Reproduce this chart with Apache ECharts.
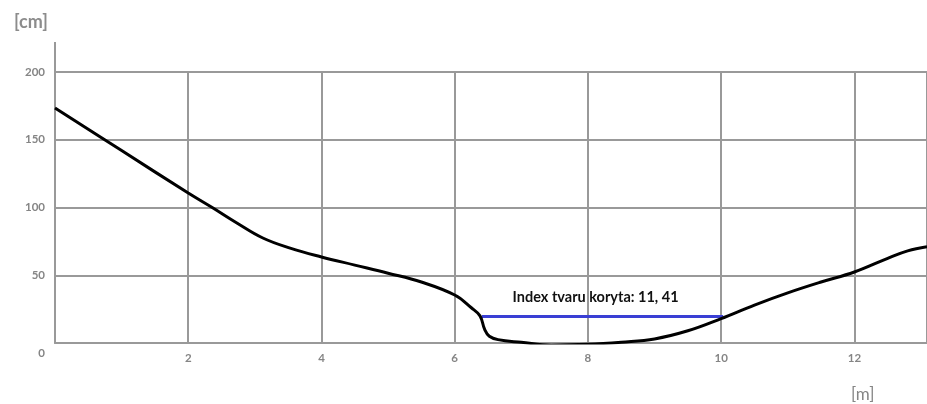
<!DOCTYPE html>
<html>
<head>
<meta charset="utf-8">
<script src="https://cdn.jsdelivr.net/npm/echarts@6/dist/echarts.min.js"></script>
<style>
html,body{margin:0;padding:0;background:#fff;}
#chart{width:927px;height:404px;}
</style>
</head>
<body>
<div id="chart"></div>
<script>
// distance along the profile [m]
var distM = [0, 1, 2, 2.36, 2.73, 3.12, 3.53, 4, 4.5, 5, 5.5, 6, 6.25, 6.38, 6.45, 6.52, 6.65, 7, 7.45, 8, 8.5, 9, 9.5, 10, 10.5, 11, 11.5, 12, 12.5, 12.8, 13.09];
// depth / height [cm]
var heightCm = [173.4, 142, 110.7, 100, 88.6, 77.5, 70, 63.5, 57.5, 51.5, 45, 35.4, 26, 20, 10, 5, 2.5, 0.5, -1.6, -1, 0.6, 3, 9, 18, 28, 37, 45, 52.4, 62.5, 68, 71];
// water level line (start/end distance, level)
var levelX = [6.41, 10.03];
var levelY = 19.4;
var annotation = 'Index tvaru koryta: 11, 41';
var yTicks = [0, 50, 100, 150, 200];
var xTicks = [2, 4, 6, 8, 10, 12];

var profile = distM.map(function (x, i) { return [x, heightCm[i]]; });

var gridColor = '#999999';
var labelColor = '#858585';
var font = 'Lato';

var chart = echarts.init(document.getElementById('chart'), null, {renderer: 'canvas'});
chart.setOption({
  animation: false,
  backgroundColor: '#ffffff',
  title: {
    text: '[m]',
    left: 846, top: 381,
    textStyle: {fontFamily: font, fontSize: 17, fontWeight: 'normal', color: labelColor}
  },
  grid: {left: 55, right: 0, top: 72, bottom: 61},
  xAxis: {
    type: 'value', min: 0, max: 13.09, interval: 2,
    axisLine: {show: true, onZero: false, lineStyle: {color: gridColor, width: 2}},
    axisTick: {show: false},
    splitLine: {show: true, lineStyle: {color: gridColor, width: 2}},
    axisLabel: {
      showMinLabel: false, showMaxLabel: false, margin: 9,
      color: labelColor, fontFamily: font, fontWeight: 'bold', fontSize: 11.5,
      formatter: function (v) { return xTicks.indexOf(v) >= 0 ? String(v) : ''; }
    }
  },
  yAxis: {
    type: 'value', min: 0, max: 200, interval: 50,
    name: '[cm]', nameLocation: 'end', nameGap: 50,
    nameTextStyle: {fontFamily: font, fontSize: 18, fontWeight: 'bold', color: '#8c8c8c', align: 'right', verticalAlign: 'middle', padding: [0, 7, 0, 0]},
    axisLine: {show: true, lineStyle: {color: gridColor, width: 2}, symbol: ['none', 'rect'], symbolSize: [2, 60]},
    axisTick: {show: false},
    splitLine: {show: true, lineStyle: {color: gridColor, width: 2}},
    axisLabel: {
      margin: 10, color: labelColor, fontFamily: font, fontWeight: 'bold', fontSize: 11.5,
      formatter: function (v) { return v === 0 ? '{z|0}' : (yTicks.indexOf(v) >= 0 ? String(v) : ''); },
      rich: {z: {padding: [20, 0, 0, 0], color: labelColor, fontFamily: font, fontWeight: 'bold', fontSize: 11.5}}
    }
  },
  series: [{
    type: 'line',
    data: profile,
    smooth: 0.4,
    symbol: 'none',
    lineStyle: {color: '#000000', width: 3},
    z: 5,
    markLine: {
      silent: true,
      symbol: ['none', 'none'],
      lineStyle: {color: '#3a3fd4', width: 3, type: 'solid'},
      label: {
        show: true, position: 'middle', distance: 12,
        formatter: annotation,
        color: '#111', fontFamily: font, fontWeight: 'bold', fontSize: 14.5,
        padding: [0, 14, 0, 0]
      },
      data: [[{coord: [levelX[0], levelY]}, {coord: [levelX[1], levelY]}]],
      z: 4
    }
  }]
});
</script>
</body>
</html>
